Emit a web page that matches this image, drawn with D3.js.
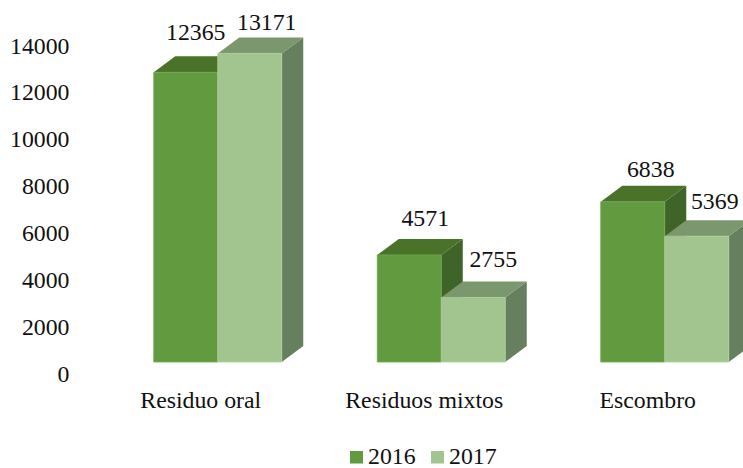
<!DOCTYPE html>
<html><head><meta charset="utf-8">
<script src="https://cdn.jsdelivr.net/npm/d3@7"></script>
<style>html,body{margin:0;padding:0;background:#fff}svg{display:block}text{font-family:"Liberation Serif",serif;fill:#111}</style>
</head><body><svg id="c" width="743" height="468"></svg>
<script>
const categories = ["Residuo oral","Residuos mixtos","Escombro"];
const seriesNames = ["2016","2017"];
const values2016 = [12365,4571,6838];
const values2017 = [13171,2755,5369];
const yTicks = [0,2000,4000,6000,8000,10000,12000,14000];
const colors = {
  "2016":{front:"#629a40",top:"#4a7329",side:"#3f6427",edge:"#6fa350"},
  "2017":{front:"#a2c58f",top:"#7b976e",side:"#667f5e",edge:"#aecd9c"}
};
const fs=23.8, dx=21.5, dy=16;
const svg=d3.select("#c");
const base=362, unit=0.02343;
const y=d3.scaleLinear().domain([0,14000]).range([base,base-14000*unit]);
const x0=d3.scaleBand().domain(categories).range([106,776.5]);
const barW=64;
const groupX=c=>x0(c)+x0.bandwidth()/2-barW;
const rows=seriesNames.map((s,i)=>({s,vals:i===0?values2016:values2017,i}));
// manual label placement relative to each bar's front-centre / back-top
const labelNudge=[[[10,-16.5],[16,-12.5],[18,-8.5]],[[17,-7.5],[20,-14.5],[18,-11.5]]];

const yAxis=d3.axisLeft(y).tickValues(yTicks).tickSize(0).tickPadding(0).tickFormat(d3.format("d"));
const ga=svg.append("g").attr("transform","translate(69.5,11.5)").call(yAxis);
ga.select(".domain").remove();
ga.selectAll("text").attr("font-size",fs).attr("dy","0.32em").style("font-family",'"Liberation Serif",serif').attr("fill","#111");

categories.forEach((c,ci)=>{
  const g=svg.append("g");
  rows.forEach(r=>{
    const v=r.vals[ci],col=colors[r.s];
    const l=groupX(c)+r.i*barW,rt=l+barW,t=y(v),b=y(0);
    g.append("path").attr("fill",col.side).attr("d",`M${rt},${t}L${rt+dx},${t-dy}L${rt+dx},${b-dy}L${rt},${b}Z`);
    g.append("path").attr("fill",col.top).attr("d",`M${l},${t}L${l+dx},${t-dy}L${rt+dx},${t-dy}L${rt},${t}Z`);
    g.append("rect").attr("x",l).attr("y",t).attr("width",barW).attr("height",b-t).attr("fill",col.front);
    g.append("path").attr("fill","none").attr("stroke",col.edge).attr("stroke-width",0.8).attr("d",`M${l},${t}H${rt}V${b}H${l}Z`);
  });
});

categories.forEach((c,ci)=>{
  rows.forEach(r=>{
    const v=r.vals[ci],n=labelNudge[r.i][ci];
    const l=groupX(c)+r.i*barW;
    svg.append("text").attr("x",l+barW/2+n[0]).attr("y",y(v)-dy+n[1])
      .attr("text-anchor","middle").attr("font-size",fs).text(d3.format("d")(v));
  });
});

svg.append("g").selectAll("text").data(categories).join("text")
  .attr("x",c=>groupX(c)+barW-17).attr("y",408).attr("text-anchor","middle").attr("font-size",fs).text(c=>c);

const lx=[350,431];
seriesNames.forEach((s,i)=>{
  svg.append("rect").attr("x",lx[i]).attr("y",451).attr("width",13).attr("height",12.5).attr("fill",colors[s].front);
  svg.append("text").attr("x",lx[i]+18).attr("y",464).attr("font-size",fs).text(s);
});
</script></body></html>
